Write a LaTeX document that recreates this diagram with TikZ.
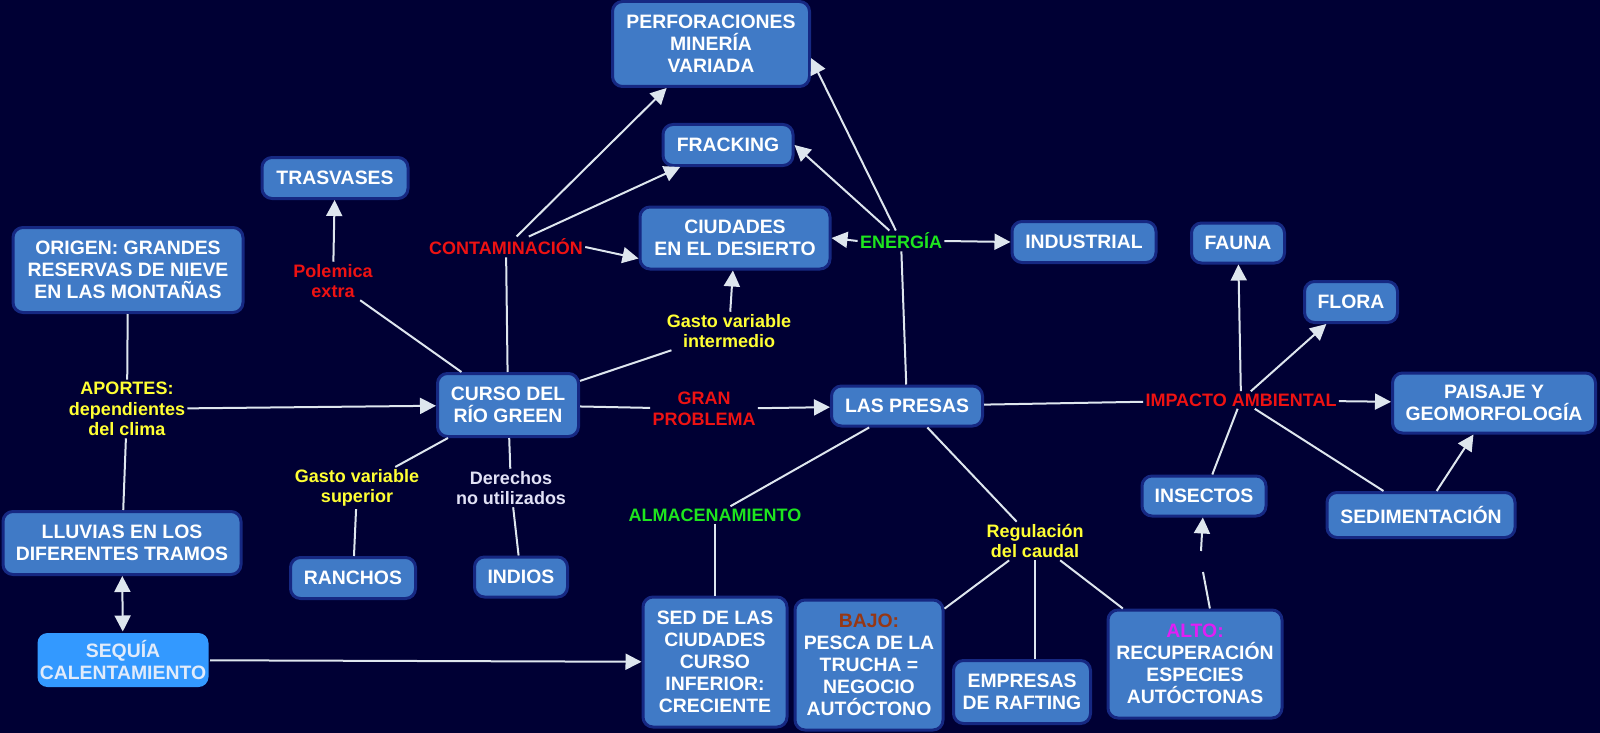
\documentclass[tikz,border=0pt]{standalone}
\usepackage{fontspec}
\setmainfont{Liberation Sans}
\usetikzlibrary{arrows.meta, positioning}
\definecolor{fondo}{RGB}{0,0,52}
\definecolor{caja}{RGB}{64,122,198}
\definecolor{borde}{RGB}{22,40,130}
\definecolor{cajaclara}{RGB}{51,153,255}
\definecolor{textoclaro}{RGB}{225,235,250}
\definecolor{gris}{RGB}{222,230,238}
\definecolor{rojo}{RGB}{238,18,18}
\definecolor{amarillo}{RGB}{255,255,51}
\definecolor{verde}{RGB}{30,230,30}
\definecolor{lavanda}{RGB}{225,225,245}
\definecolor{marron}{RGB}{150,55,20}
\definecolor{magenta}{RGB}{225,30,245}

\begin{document}
\begin{tikzpicture}[x=0.5pt, y=-0.5pt,
  concepto/.style={draw=borde, line width=1.5pt, fill=caja, rounded corners=5pt, text=white,
    align=center, inner sep=1pt, font=\fontsize{9.7}{11}\selectfont\bfseries},
  enlace/.style={align=center, inner sep=1pt, font=\fontsize{9}{10.25}\selectfont\bfseries},
  linea/.style={draw=gris, line width=1pt},
  flecha/.style={linea, -{Triangle[length=8pt, width=8pt]}}]
  \useasboundingbox (0,0) rectangle (1600,733);
  \fill[fondo] (0,0) rectangle (1600,733);
  % conceptos
  \node[concepto, minimum width=98.5pt, minimum height=42.5pt] (perf) at (711,44) {PERFORACIONES\\MINERÍA\\VARIADA};
  \node[concepto, minimum width=65pt, minimum height=20.5pt] (frack) at (728,145) {FRACKING};
  \node[concepto, minimum width=95pt, minimum height=31pt] (ciudades) at (735,238) {CIUDADES\\EN EL DESIERTO};
  \node[concepto, minimum width=72pt, minimum height=20.5pt] (industrial) at (1084,242) {INDUSTRIAL};
  \node[concepto, minimum width=73pt, minimum height=20.5pt] (trasvases) at (335,178) {TRASVASES};
  \node[concepto, minimum width=115pt, minimum height=42.5pt] (origen) at (128,270) {ORIGEN: GRANDES\\RESERVAS DE NIEVE\\EN LAS MONTAÑAS};
  \node[concepto, minimum width=119pt, minimum height=31.5pt] (lluvias) at (122,543) {LLUVIAS EN LOS\\DIFERENTES TRAMOS};
  \node[concepto, draw=none, fill=cajaclara, text=textoclaro, minimum width=85.5pt, minimum height=27pt] (sequia) at (123,660) {SEQUÍA\\CALENTAMIENTO};
  \node[concepto, minimum width=62.5pt, minimum height=20.5pt] (ranchos) at (353,578) {RANCHOS};
  \node[concepto, minimum width=70.5pt, minimum height=31.5pt] (curso) at (508,405) {CURSO DEL\\RÍO GREEN};
  \node[concepto, minimum width=46.5pt, minimum height=20pt] (indios) at (521,577) {INDIOS};
  \node[concepto, minimum width=75.5pt, minimum height=20pt] (presas) at (907,406) {LAS PRESAS};
  \node[concepto, minimum width=72pt, minimum height=65pt] (sed) at (715,662) {SED DE LAS\\CIUDADES\\CURSO\\INFERIOR:\\CRECIENTE};
  \node[concepto, minimum width=74pt, minimum height=65pt] (bajo) at (869,665) {\textcolor{marron}{BAJO:}\\PESCA DE LA\\TRUCHA =\\NEGOCIO\\AUTÓCTONO};
  \node[concepto, minimum width=68.5pt, minimum height=31.5pt] (empresas) at (1022,692) {EMPRESAS\\DE RAFTING};
  \node[concepto, minimum width=87pt, minimum height=54pt] (alto) at (1195,664) {\textcolor{magenta}{ALTO:}\\RECUPERACIÓN\\ESPECIES\\AUTÓCTONAS};
  \node[concepto, minimum width=46.5pt, minimum height=20pt] (fauna) at (1238,243) {FAUNA};
  \node[concepto, minimum width=46.5pt, minimum height=20.5pt] (flora) at (1351,302) {FLORA};
  \node[concepto, minimum width=101.5pt, minimum height=30pt] (paisaje) at (1494,403) {PAISAJE Y\\GEOMORFOLOGÍA};
  \node[concepto, minimum width=62pt, minimum height=20pt] (insectos) at (1204,496) {INSECTOS};
  \node[concepto, minimum width=94pt, minimum height=22.5pt] (sedim) at (1421,515) {SEDIMENTACIÓN};
  % enlaces
  \node[enlace, text=rojo] (polemica) at (333,281) {Polemica\\extra};
  \node[enlace, text=rojo] (contam) at (506,247) {CONTAMINACIÓN};
  \node[enlace, text=amarillo] (gastoint) at (729,331) {Gasto variable\\intermedio};
  \node[enlace, text=verde] (energia) at (901,241) {ENERGÍA};
  \node[enlace, text=amarillo] (aportes) at (127,409) {APORTES:\\dependientes\\del clima};
  \node[enlace, text=rojo] (granprob) at (704,409) {GRAN\\PROBLEMA};
  \node[enlace, text=amarillo] (gastosup) at (357,488) {Gasto variable\\superior};
  \node[enlace, text=lavanda] (derechos) at (511,488) {Derechos\\no utilizados};
  \node[enlace, text=verde] (almac) at (715,515) {ALMACENAMIENTO};
  \node[enlace, text=amarillo] (regul) at (1035,541) {Regulación\\del caudal};
  \node[enlace, text=rojo] (impacto) at (1241,400) {IMPACTO AMBIENTAL};
  \coordinate (altoa) at (1203,572);
  \coordinate (altob) at (1201,551);
  % conectores
  \draw[linea] (origen) -- (aportes);
  \draw[linea] (aportes) -- (lluvias);
  \draw[flecha] (aportes) -- (curso);
  \draw[{Triangle[length=8pt, width=8pt]}-{Triangle[length=8pt, width=8pt]}, linea] (lluvias) -- (sequia);
  \draw[flecha] (sequia) -- (sed);
  \draw[linea] (curso) -- (polemica);
  \draw[flecha] (polemica) -- (trasvases);
  \draw[linea] (curso) -- (contam);
  \draw[flecha] (contam) -- (perf);
  \draw[flecha] (contam) -- (frack);
  \draw[flecha] (contam.east) -- (ciudades.192);
  \draw[linea] (curso) -- (gastoint);
  \draw[flecha] (gastoint) -- (ciudades);
  \draw[linea] (curso) -- (granprob);
  \draw[flecha] (granprob) -- (presas);
  \draw[linea] (curso) -- (gastosup);
  \draw[linea] (gastosup) -- (ranchos);
  \draw[linea] (curso) -- (derechos);
  \draw[linea] (derechos) -- (indios);
  \draw[linea] (presas) -- (energia);
  \draw[flecha] (energia) -- (perf.-8);
  \draw[flecha] (energia) -- (frack.east);
  \draw[flecha] (energia.west) -- (ciudades.east);
  \draw[flecha] (energia.east) -- (industrial.west);
  \draw[linea] (presas) -- (almac);
  \draw[linea] (almac) -- (sed);
  \draw[linea] (presas) -- (regul);
  \draw[linea] (regul) -- (bajo);
  \draw[linea] (regul.south) -- (regul.south |- empresas.north);
  \draw[linea] (regul) -- (alto);
  \draw[linea] (alto.75) -- (altoa);
  \draw[flecha] (altob) -- (insectos);
  \draw[linea] (presas) -- (impacto);
  \draw[flecha] (impacto) -- (fauna);
  \draw[flecha] (impacto) -- (flora);
  \draw[flecha] (impacto) -- (paisaje);
  \draw[linea] (insectos) -- (impacto);
  \draw[linea] (sedim) -- (impacto);
  \draw[flecha] (sedim) -- (paisaje);
\end{tikzpicture}
\end{document}
